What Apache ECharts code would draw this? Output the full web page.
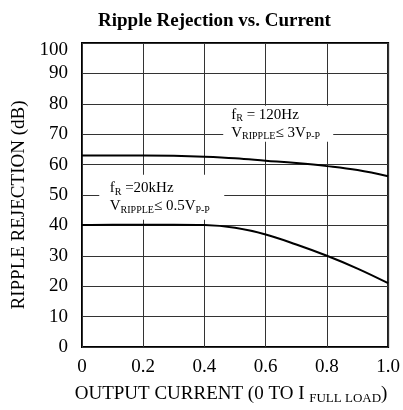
<!DOCTYPE html>
<html>
<head>
<meta charset="utf-8">
<script src="https://cdn.jsdelivr.net/npm/echarts@6/dist/echarts.min.js"></script>
<style>html,body{margin:0;padding:0;background:#fff}#c{width:403px;height:410px}</style>
</head>
<body>
<div id="c"></div>
<script>
const current = [0, 0.1, 0.2, 0.3, 0.4, 0.5, 0.6, 0.7, 0.8, 0.9, 1.0];
const rej120Hz = [63.0, 63.0, 63.0, 62.9, 62.6, 62.1, 61.3, 60.5, 59.5, 58.2, 56.2];
const rej20kHz = [40.1, 40.2, 40.2, 40.2, 40.1, 39.2, 37.0, 33.7, 30.0, 25.8, 21.0];
const xTicks = ['0', '0.2', '0.4', '0.6', '0.8', '1.0'];
const yTicks = ['0','10','20','30','40','50','60','70','80','90','100'];

const FONT = 'Liberation Serif';
const chart = echarts.init(document.getElementById('c'), null, {renderer: 'canvas'});
const rich = {
  t: {fontFamily: FONT, fontSize: 15, color: '#000', lineHeight: 18},
  s: {fontFamily: FONT, fontSize: 10, color: '#000', lineHeight: 10, verticalAlign: 'bottom'}
};
function pairs(xs, ys){ return xs.map((x,i)=>[x, ys[i]]); }
function note(coord, size, offX, text){
  return {
    symbol: 'rect', symbolSize: size, silent: true,
    itemStyle: {color: '#fff'},
    label: {show: true, position: 'inside', align: 'left', offset: [offX, 0], formatter: text, rich: rich},
    data: [{coord: coord}]
  };
}
chart.setOption({
  animation: false,
  backgroundColor: '#fff',
  title: {
    text: 'Ripple Rejection vs. Current', left: 93, top: 7,
    textStyle: {fontFamily: FONT, fontWeight: 'bold', fontSize: 19, color: '#000'}
  },
  grid: {left: 82, right: 12, top: 43, bottom: 58, show: true, borderColor: '#000', borderWidth: 2, backgroundColor: 'transparent'},
  xAxis: {
    type: 'value', min: 0, max: 1, interval: 0.2,
    axisLine: {show: false}, axisTick: {show: false},
    splitLine: {show: true, lineStyle: {color: '#333', width: 1}},
    axisLabel: {fontFamily: FONT, fontSize: 19, color: '#000', margin: 11,
      formatter: (v) => xTicks[Math.round(v/0.2)]},
    name: '{t|OUTPUT CURRENT (0 TO I }{s|FULL LOAD}{t|)}',
    nameLocation: 'middle', nameGap: 36,
    nameTextStyle: {padding: [0, 8, 0, 0], rich: {
      t: {fontFamily: FONT, fontSize: 19, color: '#000', lineHeight: 22},
      s: {fontFamily: FONT, fontSize: 13, color: '#000', lineHeight: 12, verticalAlign: 'bottom'}
    }}
  },
  yAxis: {
    type: 'value', min: 0, max: 100, interval: 10,
    axisLine: {show: false}, axisTick: {show: false},
    splitLine: {show: true, lineStyle: {color: '#333', width: 1}},
    axisLabel: {fontFamily: FONT, fontSize: 19, color: '#000', margin: 14,
      formatter: (v) => {
        const i = Math.round(v/10);
        return i === 10 ? '{top|' + yTicks[i] + '}' : yTicks[i];
      },
      rich: {top: {fontFamily: FONT, fontSize: 19, color: '#000', padding: [14, 0, 0, 0]}}
    },
    name: 'RIPPLE REJECTION (dB)', nameLocation: 'middle', nameGap: 48,
    nameTextStyle: {fontFamily: FONT, fontSize: 19, color: '#000', padding: [0, 20, 0, 0]}
  },
  series: [
    {
      type: 'line', data: pairs(current, rej120Hz), smooth: 0.4, showSymbol: false,
      lineStyle: {color: '#000', width: 2},
      markPoint: note([0.641, 73.4], [110, 36], -47,
        '{t|f}{s|R}{t| = 120Hz}\n{t|V}{s|RIPPLE}{t|≤ 3V}{s|P-P}')
    },
    {
      type: 'line', data: pairs(current, rej20kHz), smooth: 0.4, showSymbol: false,
      lineStyle: {color: '#000', width: 2},
      markPoint: note([0.2605, 49.3], [125, 45], -52,
        '{t|f}{s|R}{t| =20kHz}\n{t|V}{s|RIPPLE}{t|≤ 0.5V}{s|P-P}')
    }
  ]
});
</script>
</body>
</html>
